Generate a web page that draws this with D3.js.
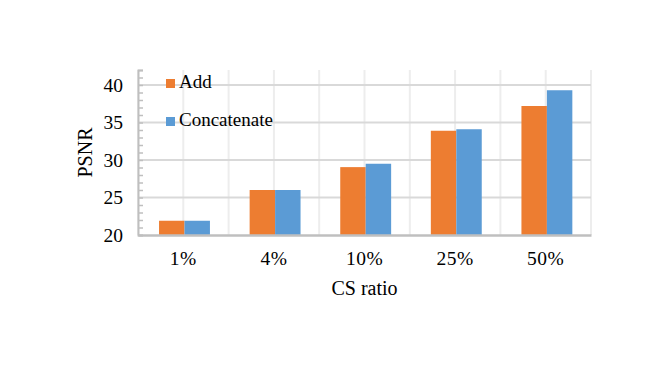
<!DOCTYPE html>
<html>
<head>
<meta charset="utf-8">
<script src="https://cdn.jsdelivr.net/npm/d3@7"></script>
<style>
  body { margin: 0; background: #fff; }
  text { font-family: "Liberation Serif", "Times New Roman", serif; fill: #000; }
</style>
</head>
<body>
<div id="chart"></div>
<script>
const categories = ['1%', '4%', '10%', '25%', '50%'];
const seriesNames = ['Add', 'Concatenate'];
const addValues = [21.9, 26.0, 29.05, 33.9, 37.2];
const concatValues = [21.9, 26.0, 29.5, 34.1, 39.3];
const yTicks = [20, 25, 30, 35, 40];
const colors = ['#ED7D31', '#5B9BD5'];

let data = categories.map((c, i) => ({ name: c, values: [addValues[i], concatValues[i]] }));

let margin = { top: 70, right: 71, bottom: 135, left: 138 },
  width = 662 - margin.left - margin.right,
  height = 370 - margin.top - margin.bottom;

let svg = d3.select('#chart')
  .append('svg')
  .attr('width', 662)
  .attr('height', 370)
  .append('g')
  .attr('transform', `translate(${margin.left}, ${margin.top})`);

let x = d3.scaleBand()
  .domain(categories)
  .range([0, width]);

let xInner = d3.scaleBand()
  .domain(seriesNames)
  .range([0, x.bandwidth()])
  .paddingInner(0)
  .paddingOuter(0.78)
  .align(0.53);

let y = d3.scaleLinear()
  .domain([20, 42])
  .range([height, 0]);

// vertical gridlines at band edges and centres
let vLines = [];
categories.forEach(c => { vLines.push(x(c)); vLines.push(x(c) + x.bandwidth() / 2); });
vLines.push(width);
svg.selectAll('.vgrid')
  .data(vLines)
  .enter()
  .append('line')
  .attr('x1', d => d).attr('x2', d => d)
  .attr('y1', 0).attr('y2', height)
  .style('stroke', '#ededed')
  .style('stroke-width', 2);

// horizontal gridlines
svg.selectAll('.hgrid')
  .data(yTicks.slice(1))
  .enter()
  .append('line')
  .attr('x1', 0).attr('x2', width)
  .attr('y1', d => y(d)).attr('y2', d => y(d))
  .style('stroke', '#d9d9d9')
  .style('stroke-width', 2);

let bar = svg.selectAll('.bar-group')
  .data(data)
  .enter()
  .append('g')
  .attr('class', 'bar-group')
  .attr('transform', d => `translate(${x(d.name)},0)`);

bar.selectAll('rect')
  .data(d => d.values.map((v, i) => ({ key: seriesNames[i], v: v, i: i })))
  .enter()
  .append('rect')
  .attr('x', d => xInner(d.key))
  .attr('y', d => y(d.v))
  .attr('width', xInner.bandwidth())
  .attr('height', d => height - y(d.v))
  .style('fill', d => colors[d.i]);

// left axis with minor ticks
let yAxis = svg.append('g')
  .call(d3.axisRight(y).tickValues(d3.range(20, 43, 1)).tickSize(5).tickFormat(''));
yAxis.select('.domain').style('stroke', '#bfbfbf').style('stroke-width', 2);
yAxis.selectAll('.tick line').style('stroke', '#bfbfbf').style('stroke-width', 1.5);

svg.selectAll('.ylabel')
  .data(yTicks)
  .enter()
  .append('text')
  .attr('x', -15)
  .attr('y', d => y(d))
  .attr('dy', '0.35em')
  .attr('text-anchor', 'end')
  .style('font-size', '19.5px')
  .text(d => d);

// bottom axis
let xAxis = svg.append('g')
  .attr('transform', `translate(0,${height})`)
  .call(d3.axisBottom(x).tickSize(0).tickPadding(16))
  .attr('font-family', null)
  .attr('font-size', null);
xAxis.select('.domain').style('stroke', '#bfbfbf').style('stroke-width', 2.5);
xAxis.selectAll('text')
  .style('font-family', '"Liberation Serif", serif')
  .style('font-size', '19.5px')
  .style('letter-spacing', '0.5px')
  .attr('dy', '0.71em');

svg.append('text')
  .attr('x', width / 2)
  .attr('y', height + 60)
  .attr('text-anchor', 'middle')
  .style('font-size', '20px')
  .text('CS ratio');

svg.append('text')
  .attr('transform', `translate(${-46},${height / 2}) rotate(-90)`)
  .attr('text-anchor', 'middle')
  .style('font-size', '20px')
  .text('PSNR');

// legend
let legend = svg.selectAll('.legend')
  .data(seriesNames)
  .enter()
  .append('g')
  .attr('transform', (d, i) => `translate(28,${9 + i * 38})`);
legend.append('rect')
  .attr('width', 9).attr('height', 9)
  .style('fill', (d, i) => colors[i]);
legend.append('text')
  .attr('x', 13)
  .attr('y', 9)
  .style('font-size', '19px')
  .text(d => d);
</script>
</body>
</html>
